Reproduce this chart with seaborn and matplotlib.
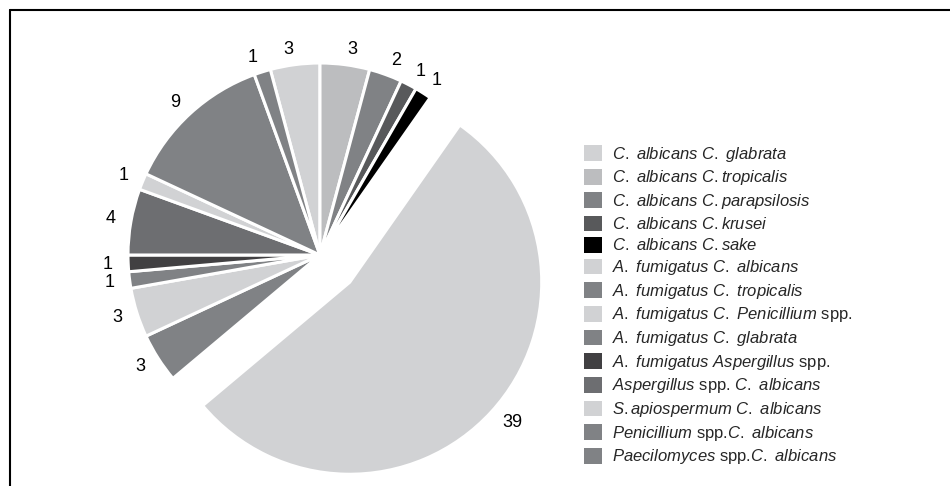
import matplotlib
matplotlib.use("Agg")
import matplotlib.pyplot as plt
from matplotlib import font_manager
from matplotlib.lines import Line2D
import seaborn as sns

sns.set_theme(style="white")

# pick a condensed face if there is one
names = {f.name for f in font_manager.fontManager.ttflist}
FONT = "Liberation Sans Narrow" if "Liberation Sans Narrow" in names else "Liberation Sans"
plt.rcParams['font.family'] = [FONT, 'DejaVu Sans']
plt.rcParams['mathtext.fontset'] = 'custom'
plt.rcParams['mathtext.rm'] = FONT
plt.rcParams['mathtext.it'] = FONT + ':italic'


def it(s):
    # italic words, normal spaces between them
    return " ".join(r"$\mathit{%s}$" % w for w in s.split())


# Data (clockwise from the top-left slice)
species = [
    it("C. albicans C. glabrata"),
    it("C. albicans C.tropicalis"),
    it("C. albicans C.parapsilosis"),
    it("C. albicans C.krusei"),
    it("C. albicans C.sake"),
    it("A. fumigatus C. albicans"),
    it("A. fumigatus C. tropicalis"),
    it("A. fumigatus C. Penicillium") + " spp.",
    it("A. fumigatus C. glabrata"),
    it("A. fumigatus Aspergillus") + " spp.",
    it("Aspergillus") + " spp. " + it("C. albicans"),
    it("S.apiospermum C. albicans"),
    it("Penicillium") + " spp." + it("C. albicans"),
    it("Paecilomyces") + " spp." + it("C. albicans"),
]
counts = [3, 3, 2, 1, 1, 39, 3, 3, 1, 1, 4, 1, 9, 1]
colors = ['#d1d2d4', '#bcbdbf', '#808285', '#58595b', '#000000',
          '#d1d2d4', '#808285', '#d1d2d4', '#808285', '#414042',
          '#6d6e71', '#d1d2d4', '#808285', '#808285']
explode = [0.21 if c == max(counts) else 0 for c in counts]

W, H = 950, 486
R = 192          # pie radius in px
CX, CY = 320, 255  # pie centre in px (from top)

fig = plt.figure(figsize=(W / 100, H / 100), dpi=100)
ax = fig.add_axes([0, 0, 1, 1])

wedges, texts = ax.pie(
    counts, labels=[str(c) for c in counts], colors=colors, explode=explode,
    startangle=105, counterclock=False, labeldistance=1.08,
    wedgeprops=dict(edgecolor='white', linewidth=2.2),
    textprops=dict(fontsize=13, color='black'),
)
ax.set_xlim(-CX / R, (W - CX) / R)
ax.set_ylim(-(H - CY) / R, CY / R)
ax.set_aspect('equal')
ax.axis('off')

leg = fig.legend(
    wedges, species, loc='upper left', bbox_to_anchor=(577 / W, 1 - 138 / H),
    frameon=False, fontsize=12, handlelength=1.08, handleheight=1.08,
    handletextpad=0.62, labelspacing=0.28, borderaxespad=0,
)
for h in leg.legend_handles:
    h.set_edgecolor('none')

# frame lines on top and left
fig.add_artist(Line2D([10 / W, 1], [1 - 10 / H, 1 - 10 / H], color='black', lw=1.5,
                      transform=fig.transFigure))
fig.add_artist(Line2D([10 / W, 10 / W], [0, 1 - 10 / H], color='black', lw=1.5,
                      transform=fig.transFigure))

fig.savefig('out.png', dpi=100)
